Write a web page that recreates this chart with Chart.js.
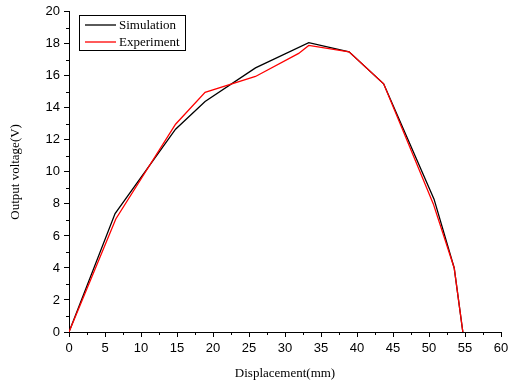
<!DOCTYPE html>
<html>
<head>
<meta charset="utf-8">
<script src="https://cdn.jsdelivr.net/npm/chart.js@4"></script>
<style>
html,body{margin:0;padding:0;background:#fff;}
#wrap{width:508px;height:386px;position:relative;}
</style>
</head>
<body>
<div id="wrap"><canvas id="c" width="508" height="386"></canvas></div>
<script>
const seriesNames = ["Simulation", "Experiment"];
const simX = [0, 6.4, 14.8, 18.9, 25.9, 33.3, 38.9, 43.7, 50.7, 53.5, 54.7];
const simY = [0, 7.4, 12.67, 14.4, 16.5, 18.07, 17.5, 15.5, 8.3, 4.0, 0];
const expX = [0, 6.5, 14.8, 18.9, 25.9, 31.9, 33.3, 38.9, 43.7, 50.6, 53.5, 54.7];
const expY = [0, 7.06, 12.98, 14.97, 15.96, 17.4, 17.9, 17.5, 15.5, 8.0, 4.0, 0];
const xTitle = "Displacement(mm)";
const yTitle = "Output voltage(V)";

const toPts = (xs, ys) => xs.map((x, i) => ({x: x, y: ys[i]}));

const minorTicks = {
  id: 'minorTicks',
  afterDraw(chart) {
    const ctx = chart.ctx;
    const xs = chart.scales.x, ys = chart.scales.y;
    ctx.save();
    ctx.strokeStyle = '#000';
    ctx.lineWidth = 1;
    ctx.beginPath();
    for (let v = 2.5; v < 60; v += 5) {
      const px = Math.round(xs.getPixelForValue(v)) + 0.5;
      ctx.moveTo(px, ys.bottom);
      ctx.lineTo(px, ys.bottom + 3);
    }
    for (let v = 1; v < 20; v += 2) {
      const py = Math.round(ys.getPixelForValue(v)) + 0.5;
      ctx.moveTo(xs.left, py);
      ctx.lineTo(xs.left - 3, py);
    }
    ctx.stroke();
    ctx.restore();
  }
};

const boxLegend = {
  id: 'boxLegend',
  afterDraw(chart) {
    const ctx = chart.ctx;
    const ds = chart.data.datasets;
    ctx.save();
    ctx.strokeStyle = '#000';
    ctx.lineWidth = 1;
    ctx.fillStyle = '#fff';
    ctx.fillRect(79.5, 15.5, 106, 35);
    ctx.strokeRect(79.5, 15.5, 106, 35);
    ctx.font = '13px "Liberation Serif", "Times New Roman", serif';
    ctx.textBaseline = 'middle';
    ds.forEach((d, i) => {
      const y = 25 + i * 17;
      ctx.strokeStyle = d.borderColor;
      ctx.lineWidth = 1.3;
      ctx.beginPath();
      ctx.moveTo(85, y);
      ctx.lineTo(116, y);
      ctx.stroke();
      ctx.fillStyle = '#000';
      ctx.fillText(d.label, 119, y + 0.5);
    });
    ctx.restore();
  }
};

new Chart(document.getElementById('c'), {
  type: 'line',
  data: {
    datasets: [
      {label: seriesNames[0], data: toPts(simX, simY), borderColor: '#000000', backgroundColor: '#000000', borderWidth: 1.3, pointRadius: 0, tension: 0, order: 1},
      {label: seriesNames[1], data: toPts(expX, expY), borderColor: '#ff0000', backgroundColor: '#ff0000', borderWidth: 1.3, pointRadius: 0, tension: 0, order: 0}
    ]
  },
  options: {
    responsive: false,
    animation: false,
    layout: {padding: {left: 0, right: 0, top: 10, bottom: 0}},
    plugins: {legend: {display: false}, tooltip: {enabled: false}},
    scales: {
      x: {
        type: 'linear', min: 0, max: 60,
        afterFit(s) { s.height = 54; s.paddingRight = 7; s.paddingLeft = 0; },
        ticks: {stepSize: 5, color: '#000', padding: 4, maxRotation: 0, font: {family: '"Liberation Sans", Arial, sans-serif', size: 13}},
        grid: {drawOnChartArea: false, tickLength: 5, color: '#000', tickWidth: 1},
        border: {display: true, color: '#000', width: 1},
        title: {display: true, text: xTitle, color: '#000', padding: {top: 0, bottom: 5}, font: {family: '"Liberation Serif", "Times New Roman", serif', size: 13}}
      },
      y: {
        type: 'linear', min: 0, max: 20,
        afterFit(s) { s.width = 69; },
        ticks: {stepSize: 2, color: '#000', padding: 4, font: {family: '"Liberation Sans", Arial, sans-serif', size: 13}},
        grid: {drawOnChartArea: false, tickLength: 5, color: '#000', tickWidth: 1},
        border: {display: true, color: '#000', width: 1},
        title: {display: true, text: yTitle, color: '#000', padding: {top: 8, bottom: 0}, font: {family: '"Liberation Serif", "Times New Roman", serif', size: 13}}
      }
    }
  },
  plugins: [minorTicks, boxLegend]
});
</script>
</body>
</html>
